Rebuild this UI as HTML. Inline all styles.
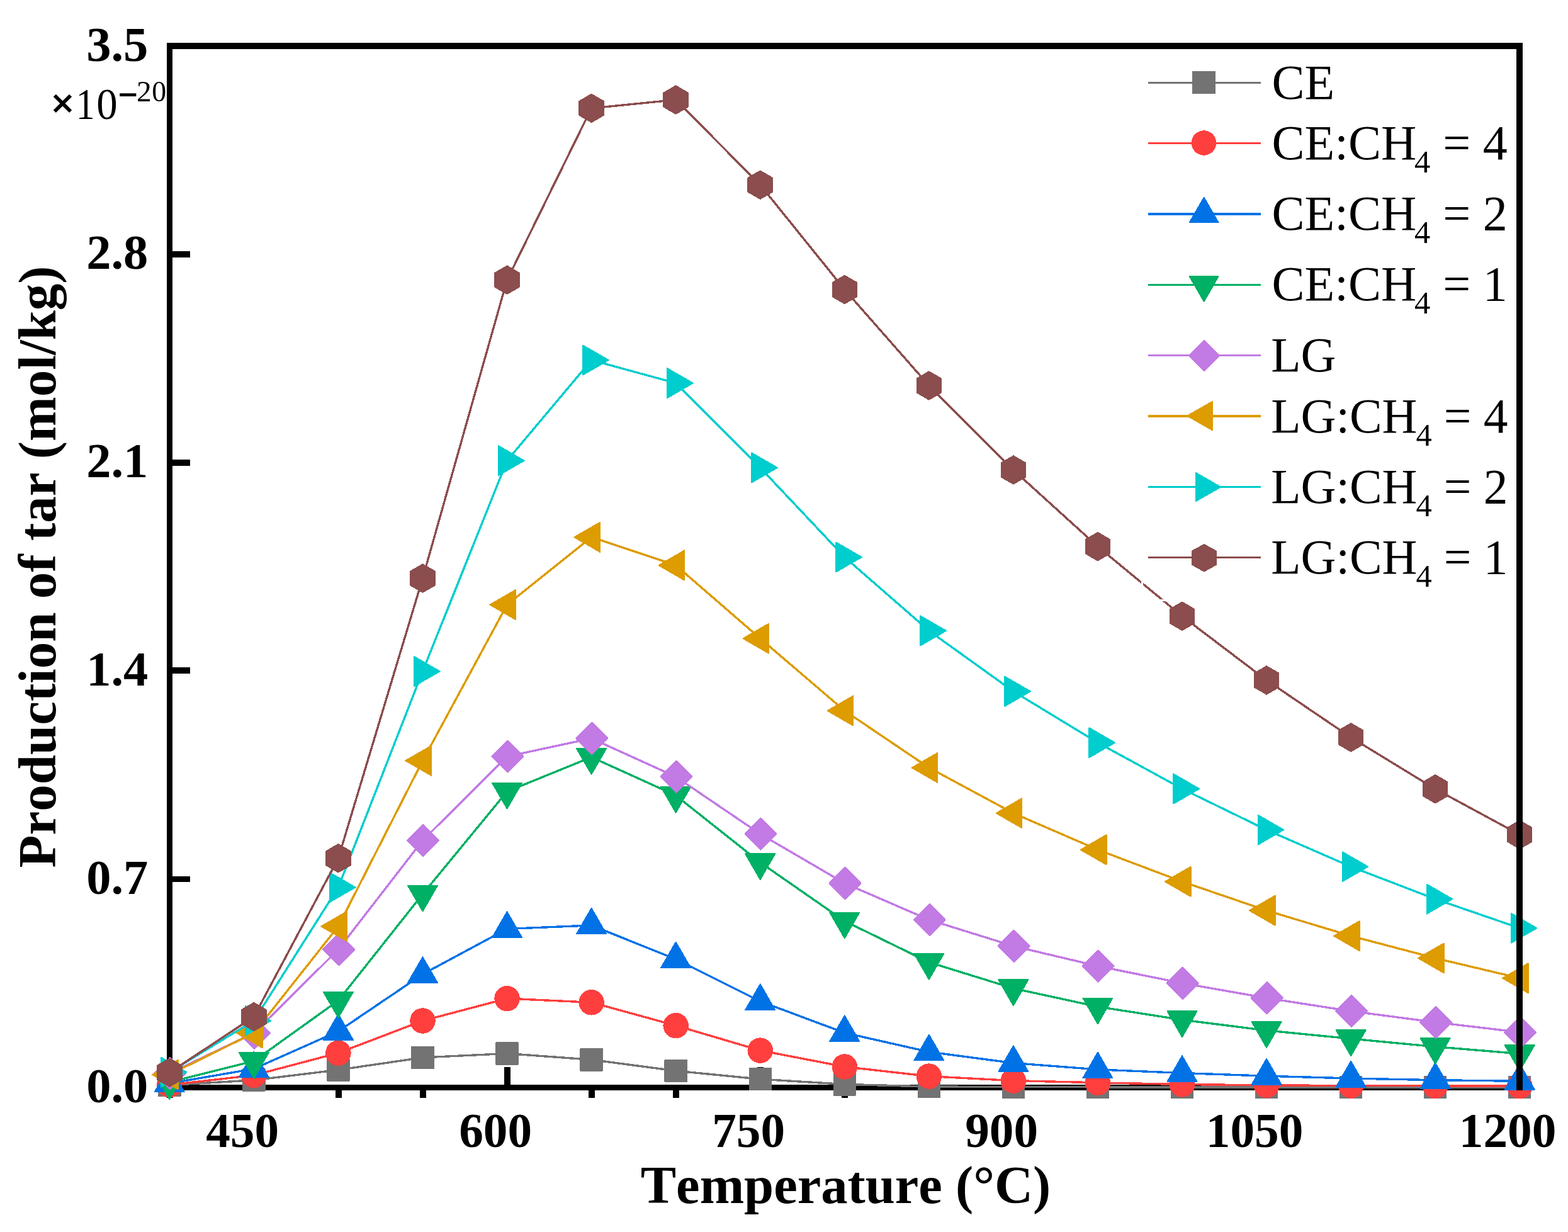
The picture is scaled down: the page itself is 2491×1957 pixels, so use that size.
<!DOCTYPE html>
<html lang="en">
<head>
<meta charset="utf-8">
<title>Production of tar vs Temperature</title>
<style>
html,body{margin:0;padding:0;background:#ffffff;}
body{width:2491px;height:1957px;overflow:hidden;}
svg{display:block;}
svg text{white-space:pre;font-kerning:none;}
</style>
</head>
<body>
<svg xmlns="http://www.w3.org/2000/svg" width="2491" height="1957" viewBox="0 0 2491 1957" style="display:block">
<rect x="0" y="0" width="2491" height="1957" fill="#ffffff"/>
<g fill="#000000" shape-rendering="crispEdges">
<rect x="265" y="68" width="9" height="1664"/>
<rect x="265" y="1723" width="2154" height="9"/>
<rect x="274" y="1392" width="28" height="9"/>
<rect x="274" y="1060" width="28" height="10"/>
<rect x="274" y="730" width="28" height="10"/>
<rect x="274" y="399" width="28" height="10"/>
<rect x="265" y="1732" width="10" height="12"/>
<rect x="399" y="1695" width="10" height="28"/>
<rect x="533" y="1732" width="10" height="12"/>
<rect x="667" y="1732" width="10" height="12"/>
<rect x="801" y="1695" width="10" height="28"/>
<rect x="935" y="1732" width="10" height="12"/>
<rect x="1069" y="1732" width="10" height="12"/>
<rect x="1203" y="1695" width="10" height="28"/>
<rect x="1337" y="1732" width="10" height="12"/>
<rect x="1471" y="1732" width="10" height="12"/>
<rect x="1605" y="1695" width="10" height="28"/>
<rect x="1739" y="1732" width="10" height="12"/>
<rect x="1873" y="1732" width="10" height="12"/>
<rect x="2007" y="1695" width="10" height="28"/>
<rect x="2141" y="1732" width="10" height="12"/>
<rect x="2275" y="1732" width="10" height="12"/>
<rect x="2409" y="1695" width="10" height="28"/>
</g>
<g shape-rendering="crispEdges">
<polyline points="269.3,1723.6 403.36,1715.8 537.42,1699.5 671.48,1679.9 805.54,1673.5 939.6,1683.3 1073.66,1701 1207.72,1714.2 1341.78,1722.4 1475.84,1726 1609.9,1726.6 1743.96,1726.8 1878.02,1727 2012.08,1727 2146.14,1727 2280.2,1727 2414.26,1727" fill="none" stroke="#737373" stroke-width="3.4" stroke-linejoin="round"/>
<polygon points="252.1,1706.4 286.5,1706.4 286.5,1740.8 252.1,1740.8" fill="#737373" stroke="#737373" stroke-width="2" stroke-linejoin="round"/>
<polygon points="386.16,1698.6 420.56,1698.6 420.56,1733 386.16,1733" fill="#737373" stroke="#737373" stroke-width="2" stroke-linejoin="round"/>
<polygon points="520.22,1682.3 554.62,1682.3 554.62,1716.7 520.22,1716.7" fill="#737373" stroke="#737373" stroke-width="2" stroke-linejoin="round"/>
<polygon points="654.28,1662.7 688.68,1662.7 688.68,1697.1 654.28,1697.1" fill="#737373" stroke="#737373" stroke-width="2" stroke-linejoin="round"/>
<polygon points="788.34,1656.3 822.74,1656.3 822.74,1690.7 788.34,1690.7" fill="#737373" stroke="#737373" stroke-width="2" stroke-linejoin="round"/>
<polygon points="922.4,1666.1 956.8,1666.1 956.8,1700.5 922.4,1700.5" fill="#737373" stroke="#737373" stroke-width="2" stroke-linejoin="round"/>
<polygon points="1056.46,1683.8 1090.86,1683.8 1090.86,1718.2 1056.46,1718.2" fill="#737373" stroke="#737373" stroke-width="2" stroke-linejoin="round"/>
<polygon points="1190.52,1697 1224.92,1697 1224.92,1731.4 1190.52,1731.4" fill="#737373" stroke="#737373" stroke-width="2" stroke-linejoin="round"/>
<polygon points="1324.58,1705.2 1358.98,1705.2 1358.98,1739.6 1324.58,1739.6" fill="#737373" stroke="#737373" stroke-width="2" stroke-linejoin="round"/>
<polygon points="1458.64,1708.8 1493.04,1708.8 1493.04,1743.2 1458.64,1743.2" fill="#737373" stroke="#737373" stroke-width="2" stroke-linejoin="round"/>
<polygon points="1592.7,1709.4 1627.1,1709.4 1627.1,1743.8 1592.7,1743.8" fill="#737373" stroke="#737373" stroke-width="2" stroke-linejoin="round"/>
<polygon points="1726.76,1709.6 1761.16,1709.6 1761.16,1744 1726.76,1744" fill="#737373" stroke="#737373" stroke-width="2" stroke-linejoin="round"/>
<polygon points="1860.82,1709.8 1895.22,1709.8 1895.22,1744.2 1860.82,1744.2" fill="#737373" stroke="#737373" stroke-width="2" stroke-linejoin="round"/>
<polygon points="1994.88,1709.8 2029.28,1709.8 2029.28,1744.2 1994.88,1744.2" fill="#737373" stroke="#737373" stroke-width="2" stroke-linejoin="round"/>
<polygon points="2128.94,1709.8 2163.34,1709.8 2163.34,1744.2 2128.94,1744.2" fill="#737373" stroke="#737373" stroke-width="2" stroke-linejoin="round"/>
<polygon points="2263,1709.8 2297.4,1709.8 2297.4,1744.2 2263,1744.2" fill="#737373" stroke="#737373" stroke-width="2" stroke-linejoin="round"/>
<polygon points="2397.06,1709.8 2431.46,1709.8 2431.46,1744.2 2397.06,1744.2" fill="#737373" stroke="#737373" stroke-width="2" stroke-linejoin="round"/>
</g>
<g shape-rendering="crispEdges">
<polyline points="269.3,1723.3 403.36,1708 537.42,1672.6 671.48,1621.5 805.54,1586.1 939.6,1592.3 1073.66,1629.1 1207.72,1668.6 1341.78,1694.5 1475.84,1709.6 1609.9,1716.6 1743.96,1719.8 1878.02,1722.5 2012.08,1723.9 2146.14,1724.5 2280.2,1724.8 2414.26,1725.2" fill="none" stroke="#FF3F3E" stroke-width="3.4" stroke-linejoin="round"/>
<circle cx="269.3" cy="1723.3" r="20.25" fill="#FF3F3E"/>
<circle cx="403.36" cy="1708" r="20.25" fill="#FF3F3E"/>
<circle cx="537.42" cy="1672.6" r="20.25" fill="#FF3F3E"/>
<circle cx="671.48" cy="1621.5" r="20.25" fill="#FF3F3E"/>
<circle cx="805.54" cy="1586.1" r="20.25" fill="#FF3F3E"/>
<circle cx="939.6" cy="1592.3" r="20.25" fill="#FF3F3E"/>
<circle cx="1073.66" cy="1629.1" r="20.25" fill="#FF3F3E"/>
<circle cx="1207.72" cy="1668.6" r="20.25" fill="#FF3F3E"/>
<circle cx="1341.78" cy="1694.5" r="20.25" fill="#FF3F3E"/>
<circle cx="1475.84" cy="1709.6" r="20.25" fill="#FF3F3E"/>
<circle cx="1609.9" cy="1716.6" r="20.25" fill="#FF3F3E"/>
<circle cx="1743.96" cy="1719.8" r="20.25" fill="#FF3F3E"/>
<circle cx="1878.02" cy="1722.5" r="20.25" fill="#FF3F3E"/>
<circle cx="2012.08" cy="1723.9" r="20.25" fill="#FF3F3E"/>
<circle cx="2146.14" cy="1724.5" r="20.25" fill="#FF3F3E"/>
<circle cx="2280.2" cy="1724.8" r="20.25" fill="#FF3F3E"/>
<circle cx="2414.26" cy="1725.2" r="20.25" fill="#FF3F3E"/>
</g>
<g shape-rendering="crispEdges">
<polyline points="269.3,1720.9 403.36,1697.8 537.42,1638.2 671.48,1547.5 805.54,1475.5 939.6,1469.9 1073.66,1523.7 1207.72,1590.6 1341.78,1640.6 1475.84,1670.9 1609.9,1688.6 1743.96,1698.9 1878.02,1704.5 2012.08,1709.2 2146.14,1713 2280.2,1715.7 2414.26,1717.3" fill="none" stroke="#0072E6" stroke-width="3.4" stroke-linejoin="round"/>
<polygon points="269.3,1693.76 292.8,1734.47 245.8,1734.47" fill="#0072E6" stroke="#0072E6" stroke-width="2" stroke-linejoin="round"/>
<polygon points="403.36,1670.66 426.86,1711.37 379.86,1711.37" fill="#0072E6" stroke="#0072E6" stroke-width="2" stroke-linejoin="round"/>
<polygon points="537.42,1611.06 560.92,1651.77 513.92,1651.77" fill="#0072E6" stroke="#0072E6" stroke-width="2" stroke-linejoin="round"/>
<polygon points="671.48,1520.36 694.98,1561.07 647.98,1561.07" fill="#0072E6" stroke="#0072E6" stroke-width="2" stroke-linejoin="round"/>
<polygon points="805.54,1448.36 829.04,1489.07 782.04,1489.07" fill="#0072E6" stroke="#0072E6" stroke-width="2" stroke-linejoin="round"/>
<polygon points="939.6,1442.76 963.1,1483.47 916.1,1483.47" fill="#0072E6" stroke="#0072E6" stroke-width="2" stroke-linejoin="round"/>
<polygon points="1073.66,1496.56 1097.16,1537.27 1050.16,1537.27" fill="#0072E6" stroke="#0072E6" stroke-width="2" stroke-linejoin="round"/>
<polygon points="1207.72,1563.46 1231.22,1604.17 1184.22,1604.17" fill="#0072E6" stroke="#0072E6" stroke-width="2" stroke-linejoin="round"/>
<polygon points="1341.78,1613.46 1365.28,1654.17 1318.28,1654.17" fill="#0072E6" stroke="#0072E6" stroke-width="2" stroke-linejoin="round"/>
<polygon points="1475.84,1643.76 1499.34,1684.47 1452.34,1684.47" fill="#0072E6" stroke="#0072E6" stroke-width="2" stroke-linejoin="round"/>
<polygon points="1609.9,1661.46 1633.4,1702.17 1586.4,1702.17" fill="#0072E6" stroke="#0072E6" stroke-width="2" stroke-linejoin="round"/>
<polygon points="1743.96,1671.76 1767.46,1712.47 1720.46,1712.47" fill="#0072E6" stroke="#0072E6" stroke-width="2" stroke-linejoin="round"/>
<polygon points="1878.02,1677.36 1901.52,1718.07 1854.52,1718.07" fill="#0072E6" stroke="#0072E6" stroke-width="2" stroke-linejoin="round"/>
<polygon points="2012.08,1682.06 2035.58,1722.77 1988.58,1722.77" fill="#0072E6" stroke="#0072E6" stroke-width="2" stroke-linejoin="round"/>
<polygon points="2146.14,1685.86 2169.64,1726.57 2122.64,1726.57" fill="#0072E6" stroke="#0072E6" stroke-width="2" stroke-linejoin="round"/>
<polygon points="2280.2,1688.56 2303.7,1729.27 2256.7,1729.27" fill="#0072E6" stroke="#0072E6" stroke-width="2" stroke-linejoin="round"/>
<polygon points="2414.26,1690.16 2437.76,1730.87 2390.76,1730.87" fill="#0072E6" stroke="#0072E6" stroke-width="2" stroke-linejoin="round"/>
</g>
<g shape-rendering="crispEdges">
<polyline points="269.3,1719 403.36,1685.5 537.42,1589.4 671.48,1420.3 805.54,1257.3 939.6,1202.7 1073.66,1263.6 1207.72,1370 1341.78,1463.1 1475.84,1528.5 1609.9,1570 1743.96,1599.1 1878.02,1620 2012.08,1636.8 2146.14,1650 2280.2,1662.7 2414.26,1673.8" fill="none" stroke="#00B065" stroke-width="3.4" stroke-linejoin="round"/>
<polygon points="269.3,1746.14 292.8,1705.43 245.8,1705.43" fill="#00B065" stroke="#00B065" stroke-width="2" stroke-linejoin="round"/>
<polygon points="403.36,1712.64 426.86,1671.93 379.86,1671.93" fill="#00B065" stroke="#00B065" stroke-width="2" stroke-linejoin="round"/>
<polygon points="537.42,1616.54 560.92,1575.83 513.92,1575.83" fill="#00B065" stroke="#00B065" stroke-width="2" stroke-linejoin="round"/>
<polygon points="671.48,1447.44 694.98,1406.73 647.98,1406.73" fill="#00B065" stroke="#00B065" stroke-width="2" stroke-linejoin="round"/>
<polygon points="805.54,1284.44 829.04,1243.73 782.04,1243.73" fill="#00B065" stroke="#00B065" stroke-width="2" stroke-linejoin="round"/>
<polygon points="939.6,1229.84 963.1,1189.13 916.1,1189.13" fill="#00B065" stroke="#00B065" stroke-width="2" stroke-linejoin="round"/>
<polygon points="1073.66,1290.74 1097.16,1250.03 1050.16,1250.03" fill="#00B065" stroke="#00B065" stroke-width="2" stroke-linejoin="round"/>
<polygon points="1207.72,1397.14 1231.22,1356.43 1184.22,1356.43" fill="#00B065" stroke="#00B065" stroke-width="2" stroke-linejoin="round"/>
<polygon points="1341.78,1490.24 1365.28,1449.53 1318.28,1449.53" fill="#00B065" stroke="#00B065" stroke-width="2" stroke-linejoin="round"/>
<polygon points="1475.84,1555.64 1499.34,1514.93 1452.34,1514.93" fill="#00B065" stroke="#00B065" stroke-width="2" stroke-linejoin="round"/>
<polygon points="1609.9,1597.14 1633.4,1556.43 1586.4,1556.43" fill="#00B065" stroke="#00B065" stroke-width="2" stroke-linejoin="round"/>
<polygon points="1743.96,1626.24 1767.46,1585.53 1720.46,1585.53" fill="#00B065" stroke="#00B065" stroke-width="2" stroke-linejoin="round"/>
<polygon points="1878.02,1647.14 1901.52,1606.43 1854.52,1606.43" fill="#00B065" stroke="#00B065" stroke-width="2" stroke-linejoin="round"/>
<polygon points="2012.08,1663.94 2035.58,1623.23 1988.58,1623.23" fill="#00B065" stroke="#00B065" stroke-width="2" stroke-linejoin="round"/>
<polygon points="2146.14,1677.14 2169.64,1636.43 2122.64,1636.43" fill="#00B065" stroke="#00B065" stroke-width="2" stroke-linejoin="round"/>
<polygon points="2280.2,1689.84 2303.7,1649.13 2256.7,1649.13" fill="#00B065" stroke="#00B065" stroke-width="2" stroke-linejoin="round"/>
<polygon points="2414.26,1700.94 2437.76,1660.23 2390.76,1660.23" fill="#00B065" stroke="#00B065" stroke-width="2" stroke-linejoin="round"/>
</g>
<g shape-rendering="crispEdges">
<polyline points="269.3,1705 403.36,1641 537.42,1508.3 671.48,1335 805.54,1201.7 939.6,1172.9 1073.66,1233.8 1207.72,1324.8 1341.78,1403 1475.84,1461 1609.9,1502.8 1743.96,1534.6 1878.02,1561.7 2012.08,1585.3 2146.14,1606.2 2280.2,1623.8 2414.26,1639.7" fill="none" stroke="#C27AE4" stroke-width="3.4" stroke-linejoin="round"/>
<polygon points="270.1,1680.45 294.65,1705 270.1,1729.55 245.55,1705" fill="#C27AE4" stroke="#C27AE4" stroke-width="2.9" stroke-linejoin="round"/>
<polygon points="404.16,1616.45 428.71,1641 404.16,1665.55 379.61,1641" fill="#C27AE4" stroke="#C27AE4" stroke-width="2.9" stroke-linejoin="round"/>
<polygon points="538.22,1483.75 562.77,1508.3 538.22,1532.85 513.67,1508.3" fill="#C27AE4" stroke="#C27AE4" stroke-width="2.9" stroke-linejoin="round"/>
<polygon points="672.28,1310.45 696.83,1335 672.28,1359.55 647.73,1335" fill="#C27AE4" stroke="#C27AE4" stroke-width="2.9" stroke-linejoin="round"/>
<polygon points="806.34,1177.15 830.89,1201.7 806.34,1226.25 781.79,1201.7" fill="#C27AE4" stroke="#C27AE4" stroke-width="2.9" stroke-linejoin="round"/>
<polygon points="940.4,1148.35 964.95,1172.9 940.4,1197.45 915.85,1172.9" fill="#C27AE4" stroke="#C27AE4" stroke-width="2.9" stroke-linejoin="round"/>
<polygon points="1074.46,1209.25 1099.01,1233.8 1074.46,1258.35 1049.91,1233.8" fill="#C27AE4" stroke="#C27AE4" stroke-width="2.9" stroke-linejoin="round"/>
<polygon points="1208.52,1300.25 1233.07,1324.8 1208.52,1349.35 1183.97,1324.8" fill="#C27AE4" stroke="#C27AE4" stroke-width="2.9" stroke-linejoin="round"/>
<polygon points="1342.58,1378.45 1367.13,1403 1342.58,1427.55 1318.03,1403" fill="#C27AE4" stroke="#C27AE4" stroke-width="2.9" stroke-linejoin="round"/>
<polygon points="1476.64,1436.45 1501.19,1461 1476.64,1485.55 1452.09,1461" fill="#C27AE4" stroke="#C27AE4" stroke-width="2.9" stroke-linejoin="round"/>
<polygon points="1610.7,1478.25 1635.25,1502.8 1610.7,1527.35 1586.15,1502.8" fill="#C27AE4" stroke="#C27AE4" stroke-width="2.9" stroke-linejoin="round"/>
<polygon points="1744.76,1510.05 1769.31,1534.6 1744.76,1559.15 1720.21,1534.6" fill="#C27AE4" stroke="#C27AE4" stroke-width="2.9" stroke-linejoin="round"/>
<polygon points="1878.82,1537.15 1903.37,1561.7 1878.82,1586.25 1854.27,1561.7" fill="#C27AE4" stroke="#C27AE4" stroke-width="2.9" stroke-linejoin="round"/>
<polygon points="2012.88,1560.75 2037.43,1585.3 2012.88,1609.85 1988.33,1585.3" fill="#C27AE4" stroke="#C27AE4" stroke-width="2.9" stroke-linejoin="round"/>
<polygon points="2146.94,1581.65 2171.49,1606.2 2146.94,1630.75 2122.39,1606.2" fill="#C27AE4" stroke="#C27AE4" stroke-width="2.9" stroke-linejoin="round"/>
<polygon points="2281,1599.25 2305.55,1623.8 2281,1648.35 2256.45,1623.8" fill="#C27AE4" stroke="#C27AE4" stroke-width="2.9" stroke-linejoin="round"/>
<polygon points="2415.06,1615.15 2439.61,1639.7 2415.06,1664.25 2390.51,1639.7" fill="#C27AE4" stroke="#C27AE4" stroke-width="2.9" stroke-linejoin="round"/>
</g>
<g shape-rendering="crispEdges">
<polyline points="269.3,1707 403.36,1640.9 537.42,1471.5 671.48,1208.3 805.54,960.6 939.6,853.3 1073.66,898 1207.72,1014.2 1341.78,1129 1475.84,1219.5 1609.9,1291.7 1743.96,1349.8 1878.02,1400.4 2012.08,1446.3 2146.14,1486.7 2280.2,1522 2414.26,1553.8" fill="none" stroke="#DD9C00" stroke-width="3.4" stroke-linejoin="round"/>
<polygon points="242.16,1707 282.87,1683.5 282.87,1730.5" fill="#DD9C00" stroke="#DD9C00" stroke-width="2" stroke-linejoin="round"/>
<polygon points="376.22,1640.9 416.93,1617.4 416.93,1664.4" fill="#DD9C00" stroke="#DD9C00" stroke-width="2" stroke-linejoin="round"/>
<polygon points="510.28,1471.5 550.99,1448 550.99,1495" fill="#DD9C00" stroke="#DD9C00" stroke-width="2" stroke-linejoin="round"/>
<polygon points="644.34,1208.3 685.05,1184.8 685.05,1231.8" fill="#DD9C00" stroke="#DD9C00" stroke-width="2" stroke-linejoin="round"/>
<polygon points="778.4,960.6 819.11,937.1 819.11,984.1" fill="#DD9C00" stroke="#DD9C00" stroke-width="2" stroke-linejoin="round"/>
<polygon points="912.46,853.3 953.17,829.8 953.17,876.8" fill="#DD9C00" stroke="#DD9C00" stroke-width="2" stroke-linejoin="round"/>
<polygon points="1046.52,898 1087.23,874.5 1087.23,921.5" fill="#DD9C00" stroke="#DD9C00" stroke-width="2" stroke-linejoin="round"/>
<polygon points="1180.58,1014.2 1221.29,990.7 1221.29,1037.7" fill="#DD9C00" stroke="#DD9C00" stroke-width="2" stroke-linejoin="round"/>
<polygon points="1314.64,1129 1355.35,1105.5 1355.35,1152.5" fill="#DD9C00" stroke="#DD9C00" stroke-width="2" stroke-linejoin="round"/>
<polygon points="1448.7,1219.5 1489.41,1196 1489.41,1243" fill="#DD9C00" stroke="#DD9C00" stroke-width="2" stroke-linejoin="round"/>
<polygon points="1582.76,1291.7 1623.47,1268.2 1623.47,1315.2" fill="#DD9C00" stroke="#DD9C00" stroke-width="2" stroke-linejoin="round"/>
<polygon points="1716.82,1349.8 1757.53,1326.3 1757.53,1373.3" fill="#DD9C00" stroke="#DD9C00" stroke-width="2" stroke-linejoin="round"/>
<polygon points="1850.88,1400.4 1891.59,1376.9 1891.59,1423.9" fill="#DD9C00" stroke="#DD9C00" stroke-width="2" stroke-linejoin="round"/>
<polygon points="1984.94,1446.3 2025.65,1422.8 2025.65,1469.8" fill="#DD9C00" stroke="#DD9C00" stroke-width="2" stroke-linejoin="round"/>
<polygon points="2119,1486.7 2159.71,1463.2 2159.71,1510.2" fill="#DD9C00" stroke="#DD9C00" stroke-width="2" stroke-linejoin="round"/>
<polygon points="2253.06,1522 2293.77,1498.5 2293.77,1545.5" fill="#DD9C00" stroke="#DD9C00" stroke-width="2" stroke-linejoin="round"/>
<polygon points="2387.12,1553.8 2427.83,1530.3 2427.83,1577.3" fill="#DD9C00" stroke="#DD9C00" stroke-width="2" stroke-linejoin="round"/>
</g>
<g shape-rendering="crispEdges">
<polyline points="269.3,1703.1 403.36,1621.4 537.42,1409.5 671.48,1066.4 805.54,731.7 939.6,572 1073.66,608.6 1207.72,742.9 1341.78,885 1475.84,1001.9 1609.9,1098.2 1743.96,1179.7 1878.02,1253 2012.08,1318.2 2146.14,1376.7 2280.2,1428.1 2414.26,1474.3" fill="none" stroke="#00CDCE" stroke-width="3.4" stroke-linejoin="round"/>
<polygon points="296.44,1703.1 255.73,1679.6 255.73,1726.6" fill="#00CDCE" stroke="#00CDCE" stroke-width="2" stroke-linejoin="round"/>
<polygon points="430.5,1621.4 389.79,1597.9 389.79,1644.9" fill="#00CDCE" stroke="#00CDCE" stroke-width="2" stroke-linejoin="round"/>
<polygon points="564.56,1409.5 523.85,1386 523.85,1433" fill="#00CDCE" stroke="#00CDCE" stroke-width="2" stroke-linejoin="round"/>
<polygon points="698.62,1066.4 657.91,1042.9 657.91,1089.9" fill="#00CDCE" stroke="#00CDCE" stroke-width="2" stroke-linejoin="round"/>
<polygon points="832.68,731.7 791.97,708.2 791.97,755.2" fill="#00CDCE" stroke="#00CDCE" stroke-width="2" stroke-linejoin="round"/>
<polygon points="966.74,572 926.03,548.5 926.03,595.5" fill="#00CDCE" stroke="#00CDCE" stroke-width="2" stroke-linejoin="round"/>
<polygon points="1100.8,608.6 1060.09,585.1 1060.09,632.1" fill="#00CDCE" stroke="#00CDCE" stroke-width="2" stroke-linejoin="round"/>
<polygon points="1234.86,742.9 1194.15,719.4 1194.15,766.4" fill="#00CDCE" stroke="#00CDCE" stroke-width="2" stroke-linejoin="round"/>
<polygon points="1368.92,885 1328.21,861.5 1328.21,908.5" fill="#00CDCE" stroke="#00CDCE" stroke-width="2" stroke-linejoin="round"/>
<polygon points="1502.98,1001.9 1462.27,978.4 1462.27,1025.4" fill="#00CDCE" stroke="#00CDCE" stroke-width="2" stroke-linejoin="round"/>
<polygon points="1637.04,1098.2 1596.33,1074.7 1596.33,1121.7" fill="#00CDCE" stroke="#00CDCE" stroke-width="2" stroke-linejoin="round"/>
<polygon points="1771.1,1179.7 1730.39,1156.2 1730.39,1203.2" fill="#00CDCE" stroke="#00CDCE" stroke-width="2" stroke-linejoin="round"/>
<polygon points="1905.16,1253 1864.45,1229.5 1864.45,1276.5" fill="#00CDCE" stroke="#00CDCE" stroke-width="2" stroke-linejoin="round"/>
<polygon points="2039.22,1318.2 1998.51,1294.7 1998.51,1341.7" fill="#00CDCE" stroke="#00CDCE" stroke-width="2" stroke-linejoin="round"/>
<polygon points="2173.28,1376.7 2132.57,1353.2 2132.57,1400.2" fill="#00CDCE" stroke="#00CDCE" stroke-width="2" stroke-linejoin="round"/>
<polygon points="2307.34,1428.1 2266.63,1404.6 2266.63,1451.6" fill="#00CDCE" stroke="#00CDCE" stroke-width="2" stroke-linejoin="round"/>
<polygon points="2441.4,1474.3 2400.69,1450.8 2400.69,1497.8" fill="#00CDCE" stroke="#00CDCE" stroke-width="2" stroke-linejoin="round"/>
</g>
<g shape-rendering="crispEdges">
<polyline points="269.3,1703.7 403.36,1615.1 537.42,1363.3 671.48,918.6 805.54,444.7 939.6,171.9 1073.66,158.6 1207.72,293.7 1341.78,460 1475.84,612.5 1609.9,746.5 1743.96,868.2 1878.02,978.8 2012.08,1080.5 2146.14,1171.4 2280.2,1253.3 2414.26,1325.8" fill="none" stroke="#8B4D4D" stroke-width="3.4" stroke-linejoin="round"/>
<polygon points="269.3,1681.5 250.07,1692.6 250.07,1714.8 269.3,1725.9 288.53,1714.8 288.53,1692.6" fill="#8B4D4D" stroke="#8B4D4D" stroke-width="2" stroke-linejoin="round"/>
<polygon points="403.36,1592.9 384.13,1604 384.13,1626.2 403.36,1637.3 422.59,1626.2 422.59,1604" fill="#8B4D4D" stroke="#8B4D4D" stroke-width="2" stroke-linejoin="round"/>
<polygon points="537.42,1341.1 518.19,1352.2 518.19,1374.4 537.42,1385.5 556.65,1374.4 556.65,1352.2" fill="#8B4D4D" stroke="#8B4D4D" stroke-width="2" stroke-linejoin="round"/>
<polygon points="671.48,896.4 652.25,907.5 652.25,929.7 671.48,940.8 690.71,929.7 690.71,907.5" fill="#8B4D4D" stroke="#8B4D4D" stroke-width="2" stroke-linejoin="round"/>
<polygon points="805.54,422.5 786.31,433.6 786.31,455.8 805.54,466.9 824.77,455.8 824.77,433.6" fill="#8B4D4D" stroke="#8B4D4D" stroke-width="2" stroke-linejoin="round"/>
<polygon points="939.6,149.7 920.37,160.8 920.37,183 939.6,194.1 958.83,183 958.83,160.8" fill="#8B4D4D" stroke="#8B4D4D" stroke-width="2" stroke-linejoin="round"/>
<polygon points="1073.66,136.4 1054.43,147.5 1054.43,169.7 1073.66,180.8 1092.89,169.7 1092.89,147.5" fill="#8B4D4D" stroke="#8B4D4D" stroke-width="2" stroke-linejoin="round"/>
<polygon points="1207.72,271.5 1188.49,282.6 1188.49,304.8 1207.72,315.9 1226.95,304.8 1226.95,282.6" fill="#8B4D4D" stroke="#8B4D4D" stroke-width="2" stroke-linejoin="round"/>
<polygon points="1341.78,437.8 1322.55,448.9 1322.55,471.1 1341.78,482.2 1361.01,471.1 1361.01,448.9" fill="#8B4D4D" stroke="#8B4D4D" stroke-width="2" stroke-linejoin="round"/>
<polygon points="1475.84,590.3 1456.61,601.4 1456.61,623.6 1475.84,634.7 1495.07,623.6 1495.07,601.4" fill="#8B4D4D" stroke="#8B4D4D" stroke-width="2" stroke-linejoin="round"/>
<polygon points="1609.9,724.3 1590.67,735.4 1590.67,757.6 1609.9,768.7 1629.13,757.6 1629.13,735.4" fill="#8B4D4D" stroke="#8B4D4D" stroke-width="2" stroke-linejoin="round"/>
<polygon points="1743.96,846 1724.73,857.1 1724.73,879.3 1743.96,890.4 1763.19,879.3 1763.19,857.1" fill="#8B4D4D" stroke="#8B4D4D" stroke-width="2" stroke-linejoin="round"/>
<polygon points="1878.02,956.6 1858.79,967.7 1858.79,989.9 1878.02,1001 1897.25,989.9 1897.25,967.7" fill="#8B4D4D" stroke="#8B4D4D" stroke-width="2" stroke-linejoin="round"/>
<polygon points="2012.08,1058.3 1992.85,1069.4 1992.85,1091.6 2012.08,1102.7 2031.31,1091.6 2031.31,1069.4" fill="#8B4D4D" stroke="#8B4D4D" stroke-width="2" stroke-linejoin="round"/>
<polygon points="2146.14,1149.2 2126.91,1160.3 2126.91,1182.5 2146.14,1193.6 2165.37,1182.5 2165.37,1160.3" fill="#8B4D4D" stroke="#8B4D4D" stroke-width="2" stroke-linejoin="round"/>
<polygon points="2280.2,1231.1 2260.97,1242.2 2260.97,1264.4 2280.2,1275.5 2299.43,1264.4 2299.43,1242.2" fill="#8B4D4D" stroke="#8B4D4D" stroke-width="2" stroke-linejoin="round"/>
<polygon points="2414.26,1303.6 2395.03,1314.7 2395.03,1336.9 2414.26,1348 2433.49,1336.9 2433.49,1314.7" fill="#8B4D4D" stroke="#8B4D4D" stroke-width="2" stroke-linejoin="round"/>
</g>
<g shape-rendering="crispEdges">
<path d="M1814 90 V953 H2400" fill="none" stroke="#ffffff" stroke-width="3"/>
<rect x="1824" y="130" width="179" height="3" fill="#737373"/>
<g transform="translate(1912.6 131) scale(1.01 0.985)"><polygon points="-17.2,-17.2 17.2,-17.2 17.2,17.2 -17.2,17.2" fill="#737373" stroke="#737373" stroke-width="2" stroke-linejoin="round"/></g>
<rect x="1824" y="226" width="179" height="3" fill="#FF3F3E"/>
<g transform="translate(1912.5 227) scale(0.975 0.975)"><circle cx="0" cy="0" r="20.25" fill="#FF3F3E"/></g>
<rect x="1824" y="338" width="179" height="4" fill="#0072E6"/>
<g transform="translate(1912.7 340.2) scale(0.975 0.975)"><polygon points="0,-27.14 23.5,13.57 -23.5,13.57" fill="#0072E6" stroke="#0072E6" stroke-width="2" stroke-linejoin="round"/></g>
<rect x="1824" y="451" width="179" height="3" fill="#00B065"/>
<g transform="translate(1912.7 452.4) scale(0.975 0.975)"><polygon points="0,27.14 23.5,-13.57 -23.5,-13.57" fill="#00B065" stroke="#00B065" stroke-width="2" stroke-linejoin="round"/></g>
<rect x="1824" y="563" width="179" height="3" fill="#C27AE4"/>
<g transform="translate(1913 565.2) scale(0.955 0.955)"><polygon points="0,-24.55 24.55,0 0,24.55 -24.55,0" fill="#C27AE4" stroke="#C27AE4" stroke-width="2.9" stroke-linejoin="round"/></g>
<rect x="1824" y="659" width="179" height="4" fill="#DD9C00"/>
<g transform="translate(1912.7 660.6) scale(0.975 0.965)"><polygon points="-27.14,0 13.57,-23.5 13.57,23.5" fill="#DD9C00" stroke="#DD9C00" stroke-width="2" stroke-linejoin="round"/></g>
<rect x="1824" y="772" width="179" height="3" fill="#00CDCE"/>
<g transform="translate(1913 773.6) scale(0.965 0.96)"><polygon points="27.14,0 -13.57,-23.5 -13.57,23.5" fill="#00CDCE" stroke="#00CDCE" stroke-width="2" stroke-linejoin="round"/></g>
<rect x="1824" y="884" width="179" height="3" fill="#8B4D4D"/>
<g transform="translate(1912.9 886.2) scale(1.0 0.955)"><polygon points="0,-22.2 -19.23,-11.1 -19.23,11.1 -0,22.2 19.23,11.1 19.23,-11.1" fill="#8B4D4D" stroke="#8B4D4D" stroke-width="2" stroke-linejoin="round"/></g>
</g>
<g font-family="'Liberation Serif', serif" fill="#000000" font-size="78.0">
<text x="2020.6" y="156.5">CE</text>
</g>
<g font-family="'Liberation Serif', serif" fill="#000000" font-size="78.0">
<text x="2020.6" y="252.7">CE:CH<tspan x="2247" dy="21.0" font-size="50.5">4</tspan><tspan x="2272.8" dy="-21.0" font-size="78.0"> = 4</tspan></text>
</g>
<g font-family="'Liberation Serif', serif" fill="#000000" font-size="78.0">
<text x="2020.6" y="365">CE:CH<tspan x="2247" dy="21.0" font-size="50.5">4</tspan><tspan x="2272.8" dy="-21.0" font-size="78.0"> = 2</tspan></text>
</g>
<g font-family="'Liberation Serif', serif" fill="#000000" font-size="78.0">
<text x="2020.6" y="477.3">CE:CH<tspan x="2247" dy="21.0" font-size="50.5">4</tspan><tspan x="2272.8" dy="-21.0" font-size="78.0"> = 1</tspan></text>
</g>
<g font-family="'Liberation Serif', serif" fill="#000000" font-size="77.4">
<text x="2019.3" y="590.4">LG</text>
</g>
<g font-family="'Liberation Serif', serif" fill="#000000" font-size="77.4">
<text x="2019.3" y="686.7">LG:CH<tspan x="2249.5" dy="21.0" font-size="50.5">4</tspan><tspan x="2274.5" dy="-21.0" font-size="77.4"> = 4</tspan></text>
</g>
<g font-family="'Liberation Serif', serif" fill="#000000" font-size="77.4">
<text x="2019.3" y="799">LG:CH<tspan x="2249.5" dy="21.0" font-size="50.5">4</tspan><tspan x="2274.5" dy="-21.0" font-size="77.4"> = 2</tspan></text>
</g>
<g font-family="'Liberation Serif', serif" fill="#000000" font-size="77.4">
<text x="2019.3" y="911.3">LG:CH<tspan x="2249.5" dy="21.0" font-size="50.5">4</tspan><tspan x="2274.5" dy="-21.0" font-size="77.4"> = 1</tspan></text>
</g>
<g fill="#000000" shape-rendering="crispEdges">
<rect x="265" y="68" width="2154" height="10"/>
<rect x="2409" y="68" width="10" height="1664"/>
</g>
<g font-family="'Liberation Serif', serif" font-weight="bold" fill="#000000" font-size="79.3">
<text transform="translate(235.3 1751.1) scale(0.99 1)" text-anchor="end">0.0</text>
<text transform="translate(235.3 1419.8) scale(0.99 1)" text-anchor="end">0.7</text>
<text transform="translate(235.3 1088.5) scale(0.99 1)" text-anchor="end">1.4</text>
<text transform="translate(235.3 757.7) scale(0.99 1)" text-anchor="end">2.1</text>
<text transform="translate(235.3 426.8) scale(0.99 1)" text-anchor="end">2.8</text>
<text transform="translate(235.3 96.5) scale(0.99 1)" text-anchor="end">3.5</text>
<text transform="translate(385.1 1821.7) scale(0.975 1)" text-anchor="middle">450</text>
<text transform="translate(787.1 1821.7) scale(0.975 1)" text-anchor="middle">600</text>
<text transform="translate(1189.1 1821.7) scale(0.975 1)" text-anchor="middle">750</text>
<text transform="translate(1591.1 1821.7) scale(0.975 1)" text-anchor="middle">900</text>
<text transform="translate(1993.1 1821.7) scale(0.975 1)" text-anchor="middle">1050</text>
<text transform="translate(2395.1 1821.7) scale(0.975 1)" text-anchor="middle">1200</text>
</g>
<g fill="#000000">
<text transform="translate(78.6 180.0) scale(1 1)" font-family="'DejaVu Sans', sans-serif" font-weight="bold" font-size="50.0">×</text>
<text transform="translate(120.8 188.9) scale(0.85 1)" font-family="'Liberation Serif', serif" font-weight="normal" font-size="70.2">1</text>
<text transform="translate(153.3 188.9) scale(0.953 1)" font-family="'Liberation Serif', serif" font-weight="normal" font-size="70.2">0</text>
<text transform="translate(185.5 163.7) scale(1 1)" font-family="'DejaVu Sans', sans-serif" font-weight="bold" font-size="41.9">−</text>
<text transform="translate(216.9 160.8) scale(1 1)" font-family="'Liberation Serif', serif" font-weight="normal" font-size="47.3">2</text>
<text transform="translate(241.2 160.8) scale(0.97 1)" font-family="'Liberation Serif', serif" font-weight="normal" font-size="47.3">0</text>
</g>
<g font-family="'Liberation Serif', serif" font-weight="bold" fill="#000000">
<text x="1017.7" y="1910.8" font-size="84.6">Temperature (°C)</text>
<text transform="translate(87.8 1378.5) rotate(-90)" font-size="85.0">Production of tar (mol/kg)</text>
</g>
</svg>
</body>
</html>
